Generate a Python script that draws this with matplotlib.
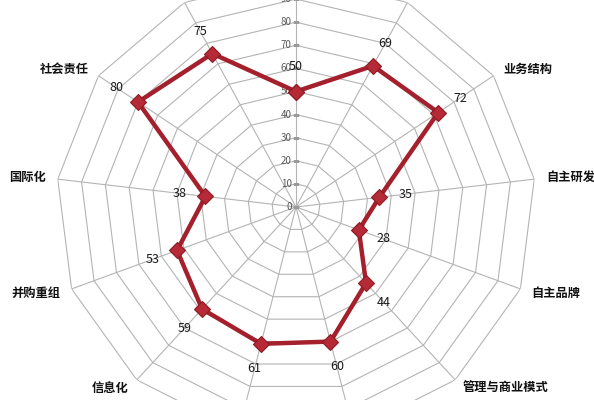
import numpy as np
import matplotlib
matplotlib.use('Agg')
import matplotlib.pyplot as plt

plt.rcParams['font.family'] = ['Noto Sans CJK SC', 'DejaVu Sans']

# 13 axes, clockwise from the top; labels of axes cut off by the frame are unknown
categories = ['', '', '业务结构', '自主研发', '自主品牌', '管理与商业模式', '',
              '', '信息化', '并购重组', '国际化', '社会责任', '']
values = [50, 69, 72, 35, 28, 44, 60, 61, 59, 53, 38, 80, 75]
ring_levels = [10, 20, 30, 40, 50, 60, 70, 80, 90, 100]
tick_labels = ['0', '10', '20', '30', '40', '50', '60', '70', '80', '90', '100']

line_color = '#a3202c'
grid_color = '#b4b4b4'

n = len(categories)
angles = np.arange(n) * 2 * np.pi / n
closed_angles = np.append(angles, angles[0])

fig = plt.figure(figsize=(5.94, 4), dpi=100)
# chart is bigger than the canvas and slightly squashed vertically:
# centre at (296, 207) px, radius 240 px across, 231 px up/down
ax = fig.add_axes([(296 - 240) / 594, (400 - 207 - 231) / 400, 480 / 594, 462 / 400],
                  projection='polar')
ax.set_aspect('auto')
ax.set_theta_zero_location('N')
ax.set_theta_direction(-1)
ax.set_ylim(0, 100)
ax.grid(False)
ax.spines['polar'].set_visible(False)
ax.set_xticks([])
ax.set_yticks([])
ax.patch.set_alpha(0)

# polygon grid and spokes
for r in ring_levels:
    ax.plot(closed_angles, [r] * (n + 1), color=grid_color, lw=0.8, zorder=1)
for a in angles:
    ax.plot([a, a], [0, 100], color=grid_color, lw=0.8, zorder=1)

# radial scale along the top spoke
for lev, lab in zip([0] + ring_levels, tick_labels):
    ax.plot([0], [lev], marker='_', markersize=5, color='#999999', zorder=2)
    ax.annotate(lab, xy=(0, lev), xytext=(-3, 0), textcoords='offset points',
                ha='right', va='center', fontsize=7, color='#595959')

# data series
ax.plot(closed_angles, np.append(values, values[0]), color=line_color, lw=3.2,
        marker='D', markersize=8.5, markerfacecolor='#b52a36',
        markeredgecolor='#8e1a24', markeredgewidth=0.8, zorder=3)

for a, v in zip(angles, values):
    ax.text(a, v + 11, str(v), ha='center', va='center', fontsize=9,
            color='#1a1a1a', zorder=4)

# category labels outside the outer ring
for a, name in zip(angles, categories):
    if not name:
        continue
    ha = 'left' if np.sin(a) > 0 else 'right'
    ax.text(a, 105, name, ha=ha, va='center', fontsize=8.8,
            fontweight='bold', color='#111111')

plt.savefig('out.png', dpi=100)
